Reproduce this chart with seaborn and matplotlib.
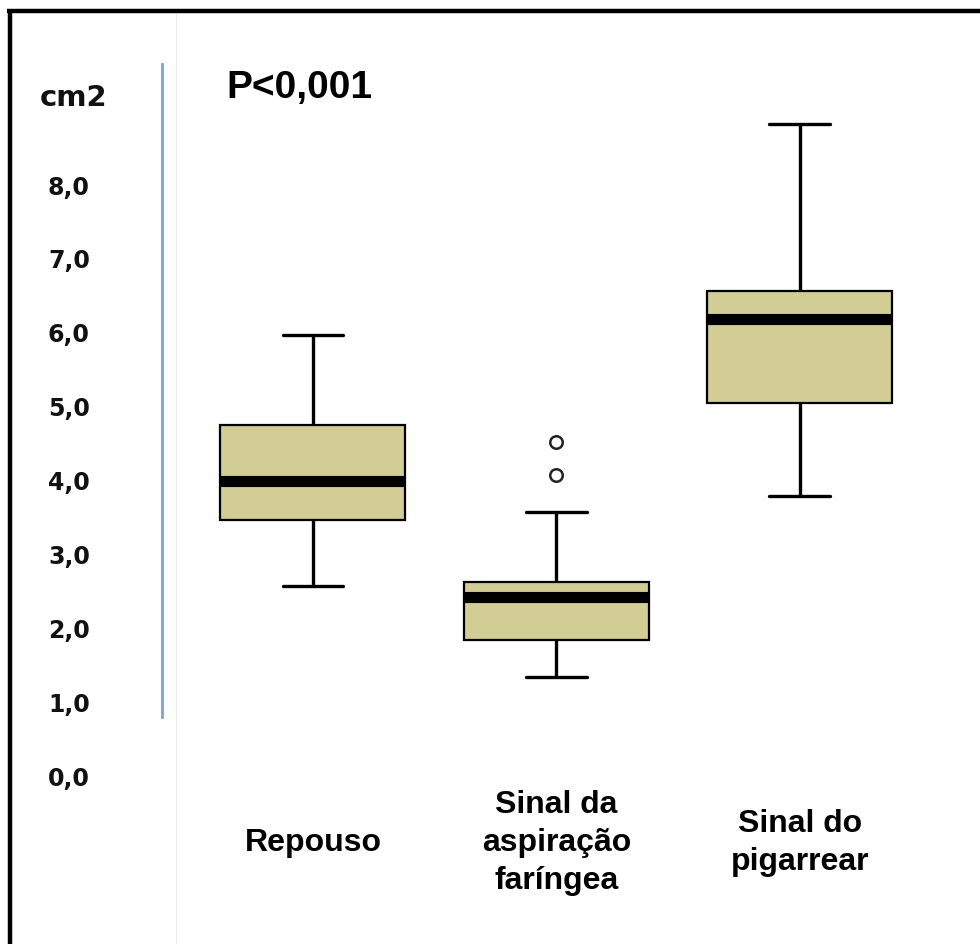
import pandas as pd
import matplotlib.pyplot as plt
from matplotlib.lines import Line2D
import seaborn as sns

# values (cm2)
categories = ["Repouso", "Sinal da\naspiração\nfaríngea", "Sinal do\npigarrear"]
repouso = [2.57, 3.46, 3.98, 4.74, 5.96]
aspiracao = [1.33, 1.83, 1.83, 1.83, 2.41, 2.41, 2.41, 2.62, 2.62, 2.62, 3.56, 4.06, 4.51]
pigarrear = [3.78, 5.04, 6.18, 6.55, 8.81]
y_ticks = [0, 1, 2, 3, 4, 5, 6, 7, 8]
y_labels = ["0,0", "1,0", "2,0", "3,0", "4,0", "5,0", "6,0", "7,0", "8,0"]

df = pd.DataFrame({
    "grupo": [categories[0]] * len(repouso) + [categories[1]] * len(aspiracao) + [categories[2]] * len(pigarrear),
    "area": repouso + aspiracao + pigarrear,
})

sns.set_style("white")
plt.rcParams["font.family"] = ["DejaVu Sans"]
plt.rcParams["text.color"] = "black"

W, H = 980, 945
fig = plt.figure(figsize=(W / 100, H / 100), dpi=100)
ax = fig.add_axes([162 / W, 1 - 791.5 / H, 784 / W, (791.5 - 63.0) / H])

sns.boxplot(data=df, x="grupo", y="area", order=categories, ax=ax,
            color="#d2cc95", saturation=1, width=0.76, whis=1.6,
            linecolor="black", linewidth=2.4, capwidths=0.25,
            boxprops=dict(linewidth=1.6),
            medianprops=dict(linewidth=8, color="black", solid_capstyle="butt"),
            flierprops=dict(marker="o", markersize=9, markerfacecolor="white",
                            markeredgecolor="#222222", markeredgewidth=1.8))

ax.set_xlim(-0.62, 2.6)
ax.set_ylim(-0.2, 9.65)
ax.set_xlabel("")
ax.set_ylabel("")

for s in ["top", "right", "bottom"]:
    ax.spines[s].set_visible(False)
ax.spines["left"].set_color("#7fa3cc")
ax.spines["left"].set_linewidth(2)
ax.spines["left"].set_bounds(0.79, 9.62)

ax.set_yticks(y_ticks)
ax.set_yticklabels(y_labels, fontsize=17, fontweight="bold", color="#111111")
ax.tick_params(axis="y", length=0, pad=52)
ax.set_xticks(range(len(categories)))
ax.set_xticklabels(categories, fontsize=23, fontweight="bold", color="black",
                   family="Liberation Sans", va="center", linespacing=1.35)
ax.tick_params(axis="x", length=0, pad=37)

fig.text(40 / W, 1 - 98 / H, "cm2", fontsize=21, fontweight="bold",
         va="center", ha="left", color="#111111")
fig.text(226 / W, 1 - 88 / H, "P<0,001", fontsize=28, fontweight="bold",
         family="Liberation Sans", va="center", ha="left", color="black")

# faint separator and black frame of the original image
fig.add_artist(Line2D([176 / W, 176 / W], [0, 1 - 14 / H], color="#ececec", lw=1))
fig.add_artist(Line2D([7 / W, 1], [1 - 12 / H, 1 - 12 / H], color="black", lw=3.2,
                      solid_capstyle="butt"))
fig.add_artist(Line2D([9.5 / W, 9.5 / W], [0, 1 - 12 / H], color="black", lw=3.2,
                      solid_capstyle="butt"))

fig.savefig("out.png", dpi=100)
